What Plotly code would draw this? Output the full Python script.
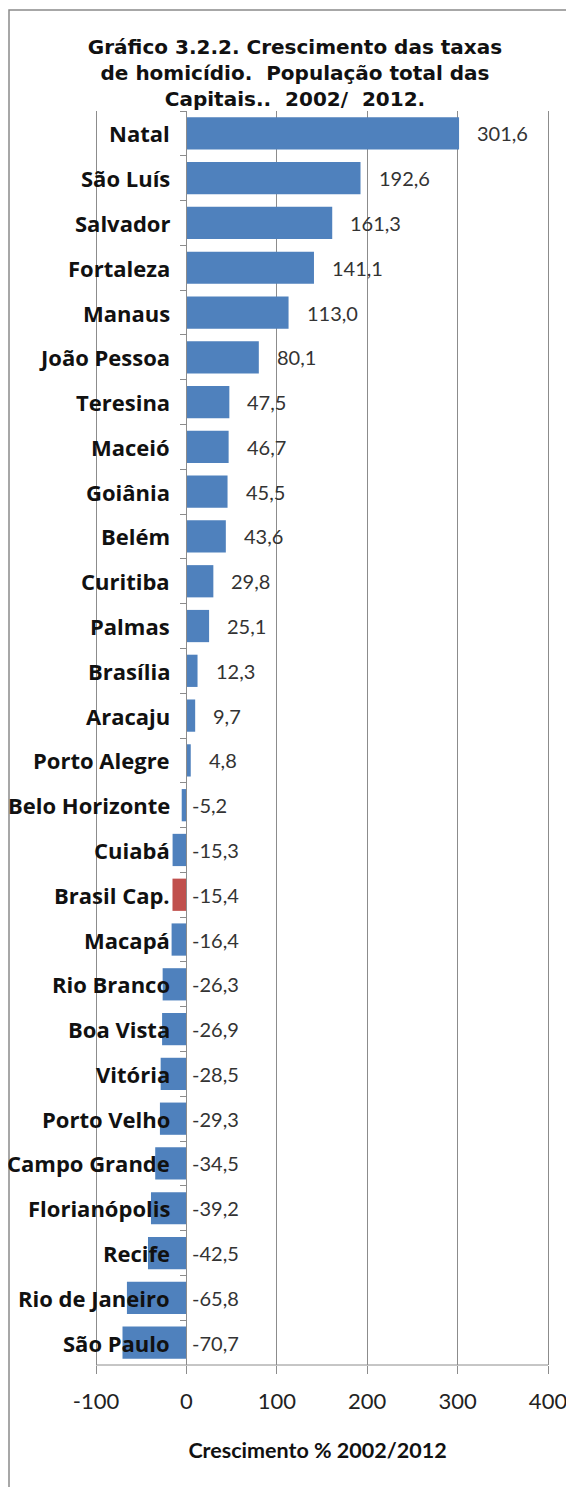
import plotly.graph_objects as go

capitals = ["Natal", "São Luís", "Salvador", "Fortaleza", "Manaus", "João Pessoa",
            "Teresina", "Maceió", "Goiânia", "Belém", "Curitiba", "Palmas", "Brasília",
            "Aracaju", "Porto Alegre", "Belo Horizonte", "Cuiabá", "Brasil Cap.", "Macapá",
            "Rio Branco", "Boa Vista", "Vitória", "Porto Velho", "Campo Grande",
            "Florianópolis", "Recife", "Rio de Janeiro", "São Paulo"]
growth = [301.6, 192.6, 161.3, 141.1, 113.0, 80.1, 47.5, 46.7, 45.5, 43.6, 29.8, 25.1,
          12.3, 9.7, 4.8, -5.2, -15.3, -15.4, -16.4, -26.3, -26.9, -28.5, -29.3, -34.5,
          -39.2, -42.5, -65.8, -70.7]
x_ticks = [-100, 0, 100, 200, 300, 400]

BLUE = "#4F81BD"
RED = "#C0504D"
GRID = "#8C8C8C"
colors = [RED if c == "Brasil Cap." else BLUE for c in capitals]

# figure geometry (page body adds an 8px offset)
W, H = 566, 1479
ML, MR, MT, MB = 77, 24, 103, 122
PW, PH = W - ML - MR, H - MT - MB
X_MAX = 402.2
X_MIN = X_MAX - PW / 0.904

fig = go.Figure()
fig.add_trace(go.Bar(
    x=growth, y=capitals, orientation="h",
    marker=dict(color=colors, line=dict(width=0)),
    hoverinfo="x+y",
))

annotations = []
for c, v in zip(capitals, growth):
    annotations.append(dict(
        x=0, y=c, xref="x", yref="y", text=c, showarrow=False,
        xanchor="right", yanchor="middle", xshift=-14,
        font=dict(family="Open Sans", size=22, color="#111111", weight="bold"),
    ))
    annotations.append(dict(
        x=max(v, 0), y=c, xref="x", yref="y",
        text=f"{v:.1f}".replace(".", ","), showarrow=False,
        xanchor="left", yanchor="middle", xshift=16 if v > 0 else 4,
        font=dict(family="Lato", size=20, color="#333333"),
    ))

# x-axis line only spans the -100..400 stretch, like the original
axis_shapes = [dict(
    type="line", xref="x", yref="paper", x0=-100, x1=400, y0=0, y1=0,
    line=dict(color=GRID, width=1), layer="below",
)]

border = dict(
    type="rect", xref="paper", yref="paper",
    x0=(1 - ML) / PW, x1=(W + 20 - ML) / PW,
    y0=(MT + PH - H - 20) / PH, y1=(MT + PH - 2) / PH,
    line=dict(color="#8A8A8A", width=1.5), fillcolor="rgba(0,0,0,0)",
    layer="below",
)

fig.update_layout(
    width=W, height=H,
    margin=dict(l=ML, r=MR, t=MT, b=MB, autoexpand=False),
    paper_bgcolor="white", plot_bgcolor="white",
    showlegend=False, bargap=0.28,
    title=dict(
        text="Gráfico 3.2.2. Crescimento das taxas<br>de homicídio.  População total das<br>Capitais..  2002/  2012.",
        x=287 / W, xanchor="center", xref="container",
        yref="container", y=1 - 46 / H, yanchor="middle",
        font=dict(family="DejaVu Sans", size=20, color="#111111", weight="bold"),
    ),
    xaxis=dict(
        range=[X_MIN, X_MAX], tickvals=x_ticks, ticktext=[str(t) for t in x_ticks],
        showgrid=True, gridcolor=GRID, gridwidth=1,
        zeroline=False,
        showline=False,
        ticks="outside", ticklen=8, tickcolor=GRID,
        tickfont=dict(family="Lato", size=22, color="#222222"),
        ticklabelstandoff=9,
        title=dict(text="Crescimento % 2002/2012", standoff=29,
                   font=dict(family="Lato", size=21.5, color="#111111", weight="bold")),
        fixedrange=True,
    ),
    yaxis=dict(
        type="category", autorange="reversed",
        anchor="free", position=(0 - X_MIN) / (X_MAX - X_MIN),
        showline=True, linecolor=GRID, linewidth=1,
        ticks="outside", tickson="boundaries", ticklen=6, tickcolor=GRID,
        showticklabels=False, showgrid=False, zeroline=False,
        fixedrange=True,
    ),
    annotations=annotations,
    shapes=axis_shapes + [border],
)

fig.write_html("out.html")
